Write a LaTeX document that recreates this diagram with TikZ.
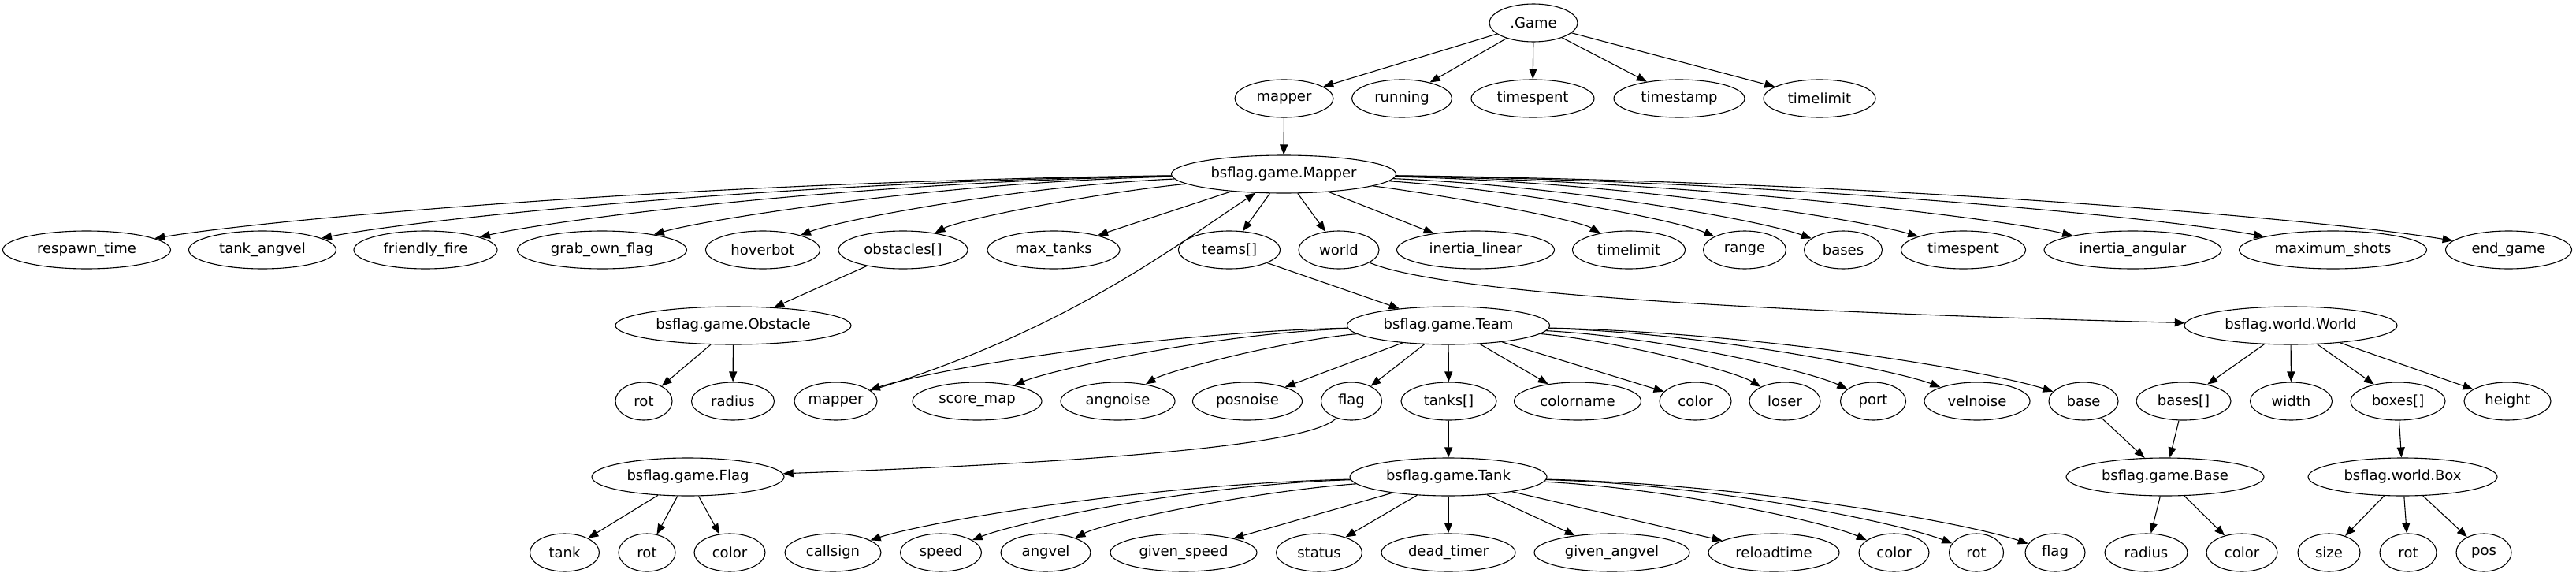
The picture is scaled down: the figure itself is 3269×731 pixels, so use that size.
\documentclass[tikz,border=0pt]{standalone}
\usepackage{fontspec}
\setmainfont{DejaVu Sans}
\usetikzlibrary{shapes.geometric,arrows.meta,calc}
\tikzset{
 nd/.style={ellipse,draw,line width=1.1pt,minimum height=48pt,inner sep=0pt,font=\fontsize{18}{22}\selectfont},
 conn/.style={draw,line width=1.1pt,-{Triangle[length=13pt,width=10pt]}},
}
\newcommand\cedge[4]{\draw[conn] let \p1=(#3), \p2=(#4) in (#3) .. controls ({0.5*\x1+0.5*\x2},{(1-#1)*(\y1)+#1*(\y2)}) and ({0.15*\x1+0.85*\x2},{#2*(\y1)+(1-#2)*(\y2)}) .. (#4);}
\begin{document}
\begin{tikzpicture}[x=1pt,y=1pt]
\useasboundingbox (0,0) rectangle (3269,-731);
% row 0
\node[nd,minimum width=112pt] (game) at (1946,-29) {.Game};
% row 1
\node[nd,minimum width=125pt] (mapperA) at (1629.5,-125) {mapper};
\node[nd,minimum width=127pt] (running) at (1779,-125) {running};
\node[nd,minimum width=156pt] (timespentA) at (1945,-125) {timespent};
\node[nd,minimum width=166pt] (timestamp) at (2131,-125) {timestamp};
\node[nd,minimum width=142pt] (timelimitA) at (2309,-125) {timelimit};
% row 2
\node[nd,minimum width=285pt] (Mapper) at (1629,-221) {bsflag.game.Mapper};
% row 3
\node[nd,minimum width=213pt] (respawn) at (110,-317) {respawn\_time};
\node[nd,minimum width=187pt] (tankangvel) at (333,-317) {tank\_angvel};
\node[nd,minimum width=182pt] (friendly) at (540,-317) {friendly\_fire};
\node[nd,minimum width=215pt] (grab) at (764,-317) {grab\_own\_flag};
\node[nd,minimum width=145pt] (hoverbot) at (968,-317) {hoverbot};
\node[nd,minimum width=164pt] (obstacles) at (1146,-317) {obstacles[]};
\node[nd,minimum width=168pt] (maxtanks) at (1337,-317) {max\_tanks};
\node[nd,minimum width=129pt] (teams) at (1560,-317) {teams[]};
\node[nd,minimum width=102pt] (world) at (1699,-317) {world};
\node[nd,minimum width=200pt] (inertialin) at (1872.5,-317) {inertia\_linear};
\node[nd,minimum width=143pt] (timelimitB) at (2067,-317) {timelimit};
\node[nd,minimum width=105pt] (range) at (2214,-317) {range};
\node[nd,minimum width=99pt] (bases) at (2339,-317) {bases};
\node[nd,minimum width=158pt] (timespentB) at (2491.5,-317) {timespent};
\node[nd,minimum width=225pt] (inertiaang) at (2706.5,-317) {inertia\_angular};
\node[nd,minimum width=238pt] (maxshots) at (2960.5,-317) {maximum\_shots};
\node[nd,minimum width=160pt] (endgame) at (3183.5,-317) {end\_game};
% row 4
\node[nd,minimum width=299pt] (Obstacle) at (930.5,-413) {bsflag.game.Obstacle};
\node[nd,minimum width=257pt] (Team) at (1838,-413) {bsflag.game.Team};
\node[nd,minimum width=270pt] (World) at (2907,-413) {bsflag.world.World};
% row 5
\node[nd,minimum width=72pt] (rotA) at (817,-509) {rot};
\node[nd,minimum width=105pt] (radiusA) at (930,-509) {radius};
\node[nd,minimum width=105pt] (mapperB) at (1060.5,-509) {mapper};
\node[nd,minimum width=164pt] (scoremap) at (1240,-509) {score\_map};
\node[nd,minimum width=145pt] (angnoise) at (1418.5,-509) {angnoise};
\node[nd,minimum width=139pt] (posnoise) at (1583,-509) {posnoise};
\node[nd,minimum width=77pt] (flagA) at (1715,-509) {flag};
\node[nd,minimum width=121pt] (tanks) at (1838.5,-509) {tanks[]};
\node[nd,minimum width=161pt] (colorname) at (2002,-509) {colorname};
\node[nd,minimum width=91pt] (colorA) at (2151.5,-509) {color};
\node[nd,minimum width=90pt] (loser) at (2265,-509) {loser};
\node[nd,minimum width=83pt] (port) at (2377,-509) {port};
\node[nd,minimum width=134pt] (velnoise) at (2509,-509) {velnoise};
\node[nd,minimum width=88pt] (base) at (2644,-509) {base};
\node[nd,minimum width=120pt] (basesarr) at (2771,-509) {bases[]};
\node[nd,minimum width=104pt] (width) at (2907.5,-509) {width};
\node[nd,minimum width=120pt] (boxes) at (3043,-509) {boxes[]};
\node[nd,minimum width=110pt] (height) at (3182,-509) {height};
% row 6
\node[nd,minimum width=244pt] (Flag) at (873,-605) {bsflag.game.Flag};
\node[nd,minimum width=250pt] (Tank) at (1838,-605) {bsflag.game.Tank};
\node[nd,minimum width=251pt] (Base) at (2747.5,-605) {bsflag.game.Base};
\node[nd,minimum width=240pt] (Box) at (3049,-605) {bsflag.world.Box};
% row 7
\node[nd,minimum width=88pt] (tank) at (716.5,-701) {tank};
\node[nd,minimum width=72pt] (rotB) at (821,-701) {rot};
\node[nd,minimum width=90pt] (colorB) at (926,-701) {color};
\node[nd,minimum width=122pt] (callsign) at (1057,-701) {callsign};
\node[nd,minimum width=103pt] (speed) at (1194,-701) {speed};
\node[nd,minimum width=114pt] (angvel) at (1327,-701) {angvel};
\node[nd,minimum width=186pt] (givenspeed) at (1502,-701) {given\_speed};
\node[nd,minimum width=109pt] (status) at (1674,-701) {status};
\node[nd,minimum width=170pt] (deadtimer) at (1838,-701) {dead\_timer};
\node[nd,minimum width=197pt] (givenangvel) at (2045.5,-701) {given\_angvel};
\node[nd,minimum width=166pt] (reloadtime) at (2251,-701) {reloadtime};
\node[nd,minimum width=89pt] (colorC) at (2403.5,-701) {color};
\node[nd,minimum width=69pt] (rotC) at (2508,-701) {rot};
\node[nd,minimum width=76pt] (flagB) at (2608,-701) {flag};
\node[nd,minimum width=105pt] (radiusB) at (2723.5,-701) {radius};
\node[nd,minimum width=90pt] (colorD) at (2845,-701) {color};
\node[nd,minimum width=79pt] (size) at (2955.5,-701) {size};
\node[nd,minimum width=72pt] (rotD) at (3056,-701) {rot};
\node[nd,minimum width=70pt] (pos) at (3152,-701) {pos};
% game edges
\foreach \t in {mapperA,running,timespentA,timestamp,timelimitA} \draw[conn] (game) -- (\t);
\draw[conn] (mapperA) -- (Mapper);
% Mapper edges
\cedge{0.1}{0.4}{Mapper}{respawn}
\cedge{0.1}{0.4}{Mapper}{tankangvel}
\cedge{0.1}{0.4}{Mapper}{friendly}
\cedge{0.1}{0.4}{Mapper}{grab}
\cedge{0.15}{0.4}{Mapper}{hoverbot}
\cedge{0.25}{0.4}{Mapper}{obstacles}
\draw[conn] (Mapper) -- (maxtanks);
\draw[conn] (Mapper) -- (teams);
\draw[conn] (Mapper) -- (world);
\draw[conn] (Mapper) -- (inertialin);
\cedge{0.3}{0.4}{Mapper}{timelimitB}
\cedge{0.2}{0.4}{Mapper}{range}
\cedge{0.15}{0.4}{Mapper}{bases}
\cedge{0.1}{0.4}{Mapper}{timespentB}
\cedge{0.1}{0.4}{Mapper}{inertiaang}
\cedge{0.1}{0.4}{Mapper}{maxshots}
\cedge{0.1}{0.4}{Mapper}{endgame}
% row3 -> row4
\draw[conn] (obstacles) -- (Obstacle);
\draw[conn] (teams) -- (Team);
\draw[conn] (world) .. controls (1850,-380) and (2400,-400) .. (World);
% Obstacle
\draw[conn] (Obstacle) -- (rotA);
\draw[conn] (Obstacle) -- (radiusA);
% Team edges
\cedge{0.1}{0.4}{Team}{mapperB}
\cedge{0.1}{0.4}{Team}{scoremap}
\cedge{0.2}{0.4}{Team}{angnoise}
\draw[conn] (Team) -- (posnoise);
\draw[conn] (Team) -- (flagA);
\draw[conn] (Team) -- (tanks);
\draw[conn] (Team) -- (colorname);
\draw[conn] (Team) -- (colorA);
\cedge{0.2}{0.4}{Team}{loser}
\cedge{0.15}{0.4}{Team}{port}
\cedge{0.1}{0.4}{Team}{velnoise}
\cedge{0.1}{0.4}{Team}{base}
\draw[conn] (mapperB) .. controls (1350,-420) and (1480,-320) .. (Mapper);
% World edges
\draw[conn] (World) -- (basesarr);
\draw[conn] (World) -- (width);
\draw[conn] (World) -- (boxes);
\draw[conn] (World) -- (height);
% row5 -> row6
\draw[conn] (flagA) .. controls (1660,-570) and (1300,-590) .. (Flag);
\draw[conn] (tanks) -- (Tank);
\draw[conn] (base) -- (Base);
\draw[conn] (basesarr) -- (Base);
\draw[conn] (boxes) -- (Box);
% Flag edges
\draw[conn] (Flag) -- (tank);
\draw[conn] (Flag) -- (rotB);
\draw[conn] (Flag) -- (colorB);
% Tank edges
\cedge{0.1}{0.4}{Tank}{callsign}
\cedge{0.1}{0.4}{Tank}{speed}
\cedge{0.2}{0.4}{Tank}{angvel}
\draw[conn] (Tank) -- (givenspeed);
\draw[conn] (Tank) -- (status);
\draw[conn] (Tank) -- (deadtimer);
\draw[conn] (Tank) -- (givenangvel);
\draw[conn] (Tank) -- (reloadtime);
\cedge{0.15}{0.4}{Tank}{colorC}
\cedge{0.1}{0.4}{Tank}{rotC}
\cedge{0.1}{0.4}{Tank}{flagB}
% Base and Box
\draw[conn] (Base) -- (radiusB);
\draw[conn] (Base) -- (colorD);
\draw[conn] (Box) -- (size);
\draw[conn] (Box) -- (rotD);
\draw[conn] (Box) -- (pos);
\end{tikzpicture}
\end{document}
